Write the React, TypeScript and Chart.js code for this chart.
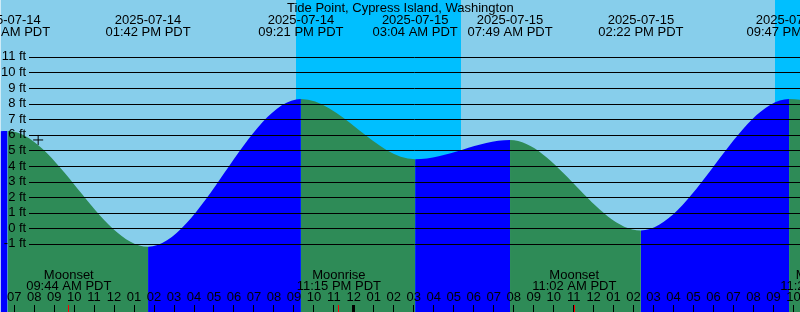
import React, { useEffect, useRef } from 'react';
import { Chart, registerables } from 'chart.js';

Chart.register(...registerables);

// ---- data (hours counted from 2025-07-14 00:00 PDT) ----
const TITLE = 'Tide Point, Cypress Island, Washington';

// high / low tide events
const TIDE_HOURS = [2.23, 6.667, 13.7, 21.35, 27.067, 31.817, 38.367, 45.783, 51.92];
const TIDE_FEET = [4.3, 6.25, -1.18, 8.3, 4.43, 5.67, -0.14, 8.3, 4.6];
const TIDE_DATES = ['2025-07-14', '2025-07-14', '2025-07-14', '2025-07-14', '2025-07-15', '2025-07-15', '2025-07-15', '2025-07-15', '2025-07-16'];
const TIDE_TIMES = ['02:14 AM PDT', '06:40 AM PDT', '01:42 PM PDT', '09:21 PM PDT', '03:04 AM PDT', '07:49 AM PDT', '02:22 PM PDT', '09:47 PM PDT', '03:55 AM PDT'];

const MOON_HOURS = [9.733, 23.25, 35.033, 47.45];
const MOON_EVENTS = ['Moonset', 'Moonrise', 'Moonset', 'Moonrise'];
const MOON_TIMES = ['09:44 AM PDT', '11:15 PM PDT', '11:02 AM PDT', '11:27 PM PDT'];

const NIGHT_START = [21.12, 45.08];
const NIGHT_END = [29.37, 53.3];

const NOW_HOUR = [8.2];
const NOW_FEET = [5.67];

const FEET_TICKS = [-1, 0, 1, 2, 3, 4, 5, 6, 7, 8, 9, 10, 11];

// ---- view ----
const X_MIN = 6.32;
const X_MAX = 46.33;
const Y_MIN = -5.372;
const Y_MAX = 14.653;
const X_LABEL_AT = -3.935;
const X_TICKS_AT = -4.936;

const DAY = '#87CEEB';
const NIGHT = '#00BFFF';
const EBB = '#2E8B57';
const FLOOD = '#0000FF';
const FONT = '"Liberation Sans", Arial, sans-serif';

const hourLabel = (v: number) => {
  const h = ((Math.round(v) % 12) + 12) % 12;
  return String(h === 0 ? 12 : h).padStart(2, '0');
};

const zeroPad = (s: any) => {
  s.paddingLeft = 0;
  s.paddingRight = 0;
  s.paddingTop = 0;
  s.paddingBottom = 0;
};

const decor = {
  id: 'decor',
  beforeDraw(chart: any) {
    const { ctx, chartArea: a, scales } = chart;
    const x = scales.x;
    ctx.save();
    ctx.fillStyle = DAY;
    ctx.fillRect(a.left, a.top, a.right - a.left, a.bottom - a.top);
    ctx.fillStyle = NIGHT;
    NIGHT_START.forEach((s, i) => {
      const x0 = Math.max(a.left, Math.round(x.getPixelForValue(s)));
      const x1 = Math.min(a.right, Math.round(x.getPixelForValue(NIGHT_END[i])));
      if (x1 > x0) ctx.fillRect(x0, a.top, x1 - x0, a.bottom - a.top);
    });
    ctx.restore();
  },
  afterDatasetsDraw(chart: any) {
    const { ctx, chartArea: a, scales } = chart;
    const y = scales.y;
    ctx.save();
    ctx.strokeStyle = '#000';
    ctx.lineWidth = 1;
    y.ticks.forEach((t: any) => {
      const py = Math.round(y.getPixelForValue(t.value)) + 0.5;
      ctx.beginPath();
      ctx.moveTo(29, py);
      ctx.lineTo(a.right, py);
      ctx.stroke();
    });
    ctx.restore();
  },
  afterDraw(chart: any) {
    const { ctx, chartArea: a, scales } = chart;
    const x = scales.x;
    ctx.save();
    ctx.font = `13px ${FONT}`;
    ctx.fillStyle = '#000';
    ctx.textAlign = 'center';
    ctx.textBaseline = 'alphabetic';
    ctx.fillText(TITLE, (a.left + a.right) / 2, 12);
    TIDE_HOURS.forEach((h, i) => {
      const px = x.getPixelForValue(h);
      ctx.fillText(TIDE_DATES[i], px, 24);
      ctx.fillText(TIDE_TIMES[i], px, 36);
    });
    MOON_HOURS.forEach((h, i) => {
      const px = x.getPixelForValue(h);
      ctx.fillText(MOON_EVENTS[i], px, 279);
      ctx.fillText(MOON_TIMES[i], px, 290);
    });
    ctx.restore();
  },
};

export default function App() {
  const ref = useRef<HTMLCanvasElement>(null);

  useEffect(() => {
    const canvas = ref.current;
    if (!canvas) return;
    Chart.defaults.font.family = FONT;
    Chart.defaults.font.size = 13;
    Chart.defaults.color = '#000';

    const chart = new Chart(canvas, {
      type: 'line',
      data: {
        datasets: [
          {
            type: 'scatter',
            data: NOW_HOUR.map((h, i) => ({ x: h, y: NOW_FEET[i] })),
            pointStyle: 'cross',
            pointRadius: 5,
            borderColor: '#000',
            backgroundColor: '#000',
            borderWidth: 1,
            showLine: false,
            fill: false,
            order: 0,
          } as any,
          {
            data: TIDE_HOURS.map((h, i) => ({ x: h, y: TIDE_FEET[i] })),
            cubicInterpolationMode: 'monotone',
            capBezierPoints: false,
            borderWidth: 0,
            borderColor: 'rgba(0,0,0,0)',
            pointRadius: 0,
            fill: 'start',
            backgroundColor: EBB,
            segment: {
              backgroundColor: (c: any) => (c.p1.parsed.y > c.p0.parsed.y ? FLOOD : EBB),
            },
            order: 1,
          } as any,
        ],
      },
      options: {
        responsive: false,
        maintainAspectRatio: false,
        animation: false,
        devicePixelRatio: 1,
        events: [],
        layout: { padding: 0, autoPadding: false },
        plugins: {
          legend: { display: false },
          tooltip: { enabled: false },
          title: { display: false },
        },
        scales: {
          x: {
            type: 'linear',
            min: X_MIN,
            max: X_MAX,
            position: { y: X_LABEL_AT } as any,
            grid: { display: false, drawTicks: false },
            border: { display: false },
            ticks: {
              z: 1,
              stepSize: 1,
              includeBounds: false,
              autoSkip: false,
              maxRotation: 0,
              minRotation: 0,
              padding: 0,
              color: '#000',
              font: { family: FONT, size: 13 },
              callback: (v: any) => hourLabel(Number(v)),
            },
            afterFit: zeroPad,
          } as any,
          x2: {
            type: 'linear',
            axis: 'x',
            min: X_MIN,
            max: X_MAX,
            position: { y: X_TICKS_AT } as any,
            grid: {
              z: 1,
              drawOnChartArea: false,
              drawTicks: true,
              tickLength: 7,
              color: (c: any) => (MOON_HOURS.includes(c.tick?.value) ? '#FF0000' : '#000'),
              lineWidth: (c: any) => (c.tick && Math.abs(c.tick.value % 24) < 1e-6 ? 3 : 1),
            },
            border: { display: false },
            ticks: { display: false, stepSize: 1, includeBounds: false, autoSkip: false },
            afterBuildTicks: (s: any) => {
              const extra = MOON_HOURS.filter((h) => h >= X_MIN && h <= X_MAX).map((h) => ({ value: h }));
              s.ticks = [...s.ticks, ...extra].sort((p: any, q: any) => p.value - q.value);
            },
            afterFit: zeroPad,
          } as any,
          y: {
            type: 'linear',
            min: Y_MIN,
            max: Y_MAX,
            position: 'left',
            grid: { display: false, drawTicks: false },
            border: { display: false },
            ticks: {
              z: 1,
              mirror: true,
              crossAlign: 'far',
              padding: 0.3,
              color: '#000',
              font: { family: FONT, size: 13 },
              callback: (v: any) => `${v} ft`,
            },
            afterBuildTicks: (s: any) => {
              s.ticks = FEET_TICKS.map((v) => ({ value: v }));
            },
            afterFit: zeroPad,
          } as any,
        },
      },
      plugins: [decor],
    } as any);

    return () => chart.destroy();
  }, []);

  return (
    <div style={{ position: 'fixed', left: 0, top: 0, width: 800, height: 312 }}>
      <canvas ref={ref} width={800} height={312} style={{ display: 'block', width: 800, height: 312 }} />
    </div>
  );
}
